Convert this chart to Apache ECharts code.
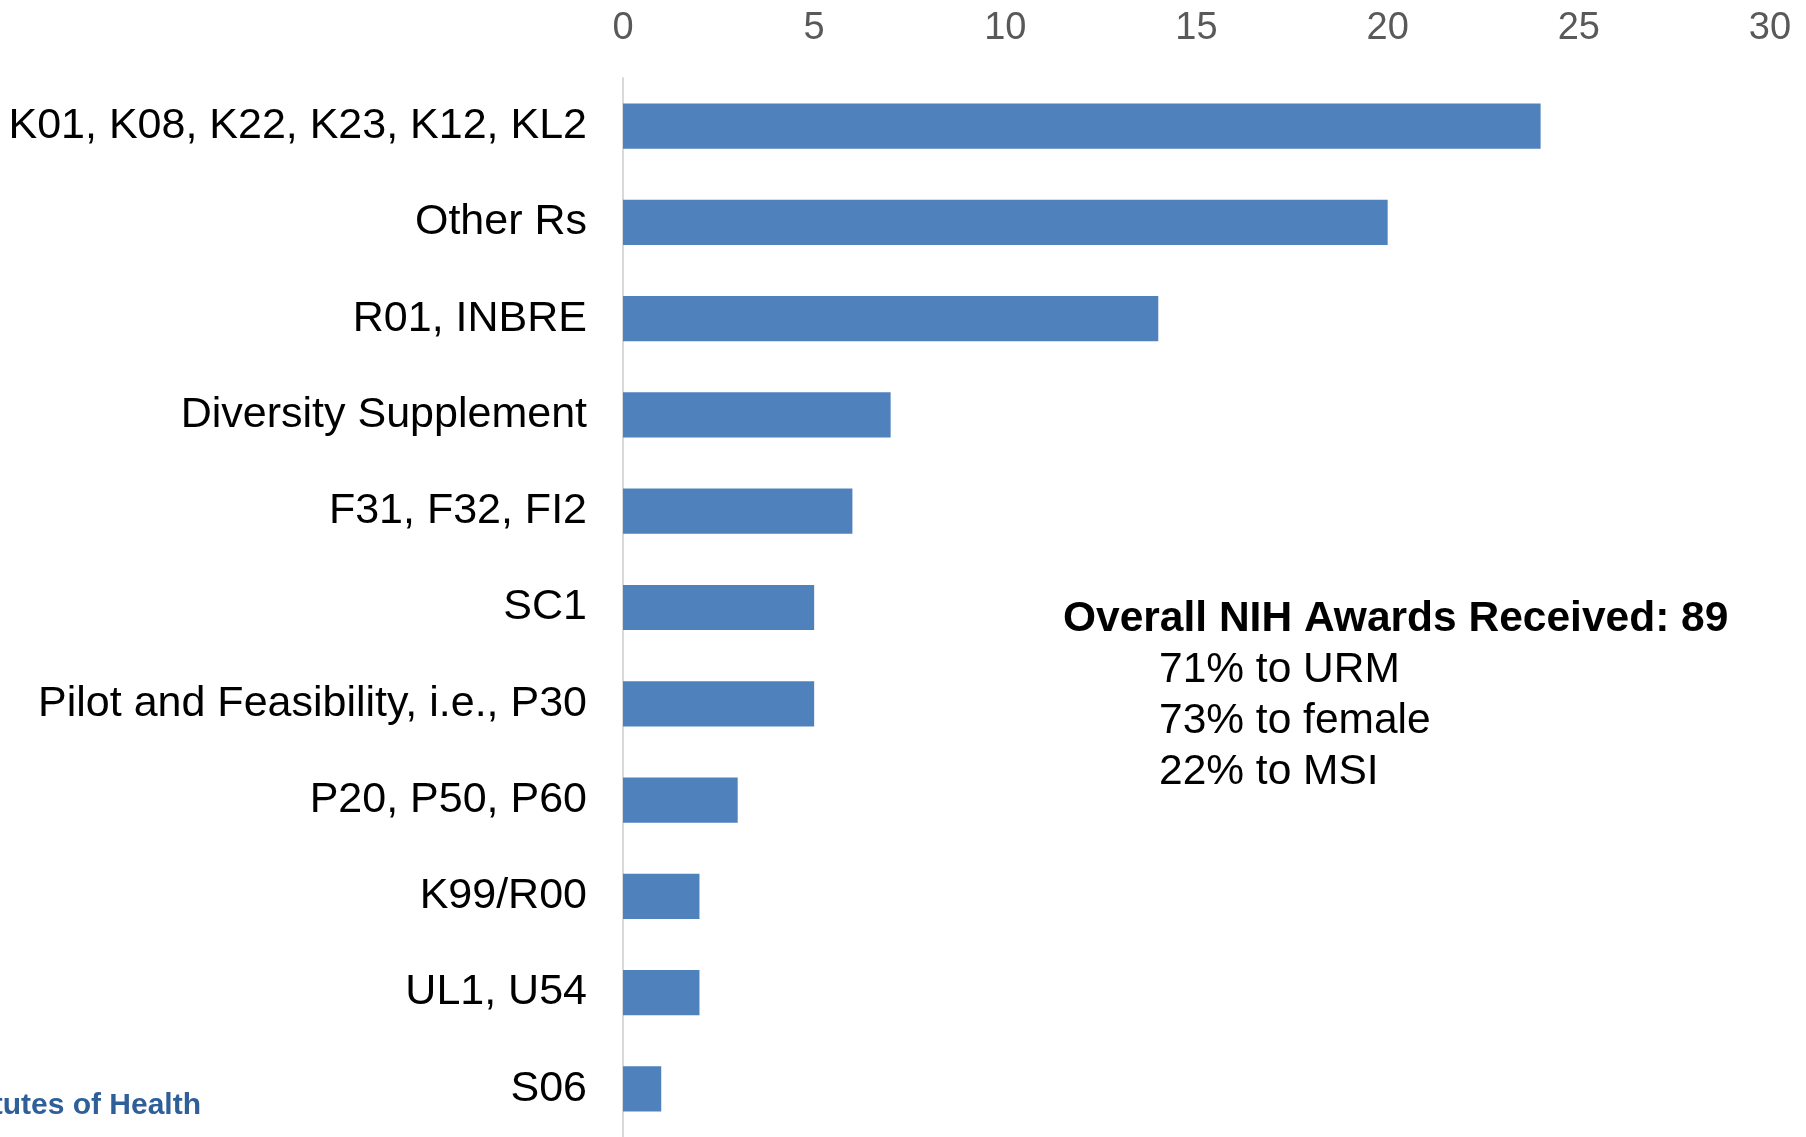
<!DOCTYPE html>
<html>
<head>
<meta charset="utf-8">
<script src="https://cdn.jsdelivr.net/npm/echarts@6/dist/echarts.min.js"></script>
<style>
  html, body { margin: 0; padding: 0; background: #fff; }
  #main { width: 1806px; height: 1137px; }
</style>
</head>
<body>
<div id="main"></div>
<script>
// 数据
var categories = [
    'K01, K08, K22, K23, K12, KL2',
    'Other Rs',
    'R01, INBRE',
    'Diversity Supplement',
    'F31, F32, FI2',
    'SC1',
    'Pilot and Feasibility, i.e., P30',
    'P20, P50, P60',
    'K99/R00',
    'UL1, U54',
    'S06'
];
var awards = [24, 20, 14, 7, 6, 5, 5, 3, 2, 2, 1];
var xTicks = [0, 30, 5]; // min, max, interval
var noteTitle = 'Overall NIH Awards Received: 89';
var noteLines = ['71% to URM', '73% to female', '22% to MSI'];

var myChart = echarts.init(document.getElementById('main'));

var option = {
    backgroundColor: '#ffffff',
    animation: false,
    grid: {
        left: 623,
        right: 36,
        top: 78,
        height: 1074
    },
    xAxis: {
        type: 'value',
        position: 'top',
        min: xTicks[0],
        max: xTicks[1],
        interval: xTicks[2],
        axisLine: { show: false },
        axisTick: { show: false },
        splitLine: { show: false },
        axisLabel: {
            fontFamily: 'Liberation Sans',
            fontSize: 38,
            color: '#595959',
            margin: 30
        }
    },
    yAxis: {
        type: 'category',
        inverse: true,
        data: categories,
        axisLine: { show: true, lineStyle: { color: '#d9d9d9', width: 2 } },
        axisTick: { show: false },
        axisLabel: {
            fontFamily: 'Liberation Sans',
            fontSize: 43,
            color: '#000000',
            margin: 36
        }
    },
    series: [
        {
            type: 'bar',
            data: awards,
            barCategoryGap: '53%',
            itemStyle: { color: '#4f81bd' }
        }
    ],
    graphic: [
        {
            type: 'text',
            left: 1063,
            top: 598,
            style: {
                text: noteTitle,
                font: 'bold 42.5px "Liberation Sans"',
                fill: '#000'
            }
        },
        {
            type: 'text',
            left: 1159,
            top: 645,
            style: {
                text: noteLines.join('\n'),
                font: '42.5px "Liberation Sans"',
                lineHeight: 51,
                fill: '#000'
            }
        },
        {
            // 截断的logo文字
            type: 'text',
            x: 201,
            y: 1106,
            style: {
                text: 'National Institutes of Health',
                font: 'bold 30px "Liberation Sans"',
                fill: '#2f5f98',
                align: 'right',
                verticalAlign: 'middle'
            }
        }
    ]
};
myChart.setOption(option);
</script>
</body>
</html>
